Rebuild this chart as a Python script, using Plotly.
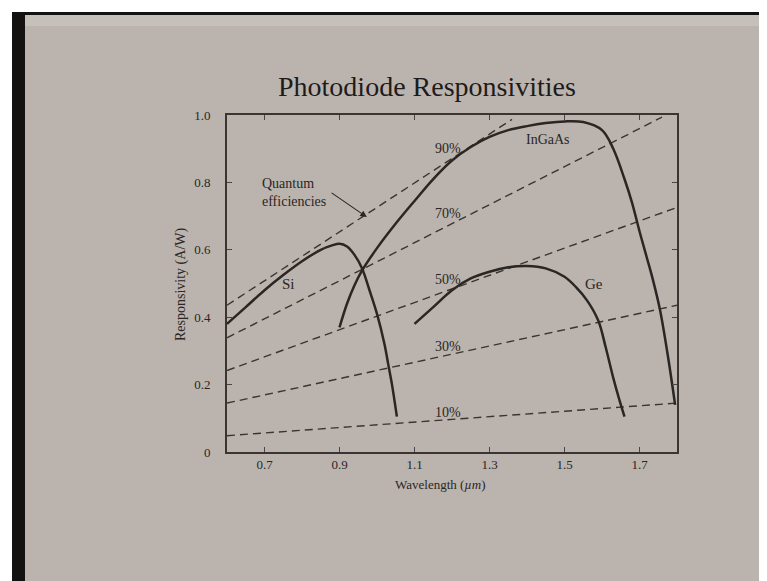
import plotly.graph_objects as go

# ---- data ----
si_wl = [0.6, 0.65, 0.7, 0.75, 0.8, 0.85, 0.88, 0.9, 0.92, 0.94, 0.96, 0.98, 1.0, 1.02, 1.03, 1.04, 1.053]
si_r = [0.38, 0.43, 0.48, 0.525, 0.566, 0.6, 0.613, 0.618, 0.61, 0.585, 0.545, 0.48, 0.41, 0.32, 0.26, 0.2, 0.105]

ingaas_wl = [0.9, 0.92, 0.94, 0.96, 1.0, 1.05, 1.1, 1.15, 1.2, 1.25, 1.3, 1.35, 1.4, 1.45, 1.5, 1.55,
             1.6, 1.63, 1.66, 1.68, 1.70, 1.72, 1.736, 1.755, 1.775, 1.795]
ingaas_r = [0.37, 0.44, 0.495, 0.538, 0.605, 0.678, 0.745, 0.81, 0.865, 0.905, 0.935, 0.955, 0.967, 0.976,
            0.981, 0.979, 0.955, 0.9, 0.81, 0.74, 0.655, 0.575, 0.51, 0.42, 0.29, 0.14]

ge_wl = [1.1, 1.15, 1.2, 1.25, 1.3, 1.35, 1.4, 1.45, 1.5, 1.53, 1.56, 1.59, 1.61, 1.63, 1.645, 1.66]
ge_r = [0.38, 0.43, 0.48, 0.515, 0.535, 0.548, 0.552, 0.545, 0.52, 0.49, 0.45, 0.39, 0.31, 0.22, 0.16, 0.105]

efficiencies = [0.9, 0.7, 0.5, 0.3, 0.1]
eff_labels = ["90%", "70%", "50%", "30%", "10%"]
eff_label_r = [0.902, 0.709, 0.513, 0.312, 0.116]
eff_wl_range = [0.6, 1.8]

x_ticks = [0.7, 0.9, 1.1, 1.3, 1.5, 1.7]
y_ticks = [0, 0.2, 0.4, 0.6, 0.8, 1.0]
y_tick_text = ["0", "0.2", "0.4", "0.6", "0.8", "1.0"]

# ---- layout geometry (reference pixel coords, page body adds an 8px offset) ----
OFF = 8
W, H = 767, 581
L, R, T, B = 227 - OFF, 90 + OFF, 115 - OFF, 129 + OFF
PW, PH = W - L - R, H - T - B


def px(x):
    return (x - OFF - L) / PW


def py(y):
    return (H - B - (y - OFF)) / PH


SERIF = "Liberation Serif"
INK = "#2a2624"
SLIDE = "#bbb4ae"

fig = go.Figure()

# quantum-efficiency dashed lines R = eta * lambda / 1.24
for eta in efficiencies:
    xs = []
    ys = []
    n = 60
    for i in range(n + 1):
        lam = eff_wl_range[0] + (eff_wl_range[1] - eff_wl_range[0]) * i / n
        r = eta * lam / 1.24
        if r <= 1.0:
            xs.append(lam)
            ys.append(r)
    fig.add_trace(go.Scatter(x=xs, y=ys, mode="lines",
                             line=dict(color="#3a3532", width=1.4, dash="8px,5px"),
                             hoverinfo="skip", showlegend=False))

for wl, r in [(si_wl, si_r), (ingaas_wl, ingaas_r), (ge_wl, ge_r)]:
    fig.add_trace(go.Scatter(x=wl, y=r, mode="lines", line=dict(color=INK, width=2.5, shape="spline"),
                             showlegend=False))

annotations = []
for lab, r in zip(eff_labels, eff_label_r):
    annotations.append(dict(x=1.149, y=r, xanchor="left", text=lab, showarrow=False,
                            font=dict(family=SERIF, size=14, color=INK)))
annotations += [
    dict(x=0.763, y=0.5, text="Si", showarrow=False, font=dict(family=SERIF, size=15, color=INK)),
    dict(x=1.455, y=0.926, text="InGaAs", showarrow=False, font=dict(family=SERIF, size=14, color=INK)),
    dict(x=1.578, y=0.5, text="Ge", showarrow=False, font=dict(family=SERIF, size=15, color=INK)),
    dict(x=0.688, y=0.771, xanchor="left", text="Quantum<br>efficiencies", showarrow=False, align="left",
         font=dict(family=SERIF, size=14, color=INK)),
    dict(x=0.973, y=0.697, ax=0.875, ay=0.772, axref="x", ayref="y", xref="x", yref="y",
         text="", showarrow=True, arrowhead=2, arrowsize=1.2, arrowwidth=1.1, arrowcolor=INK),
    dict(xref="paper", yref="paper", x=px(427), y=py(86), xanchor="center", yanchor="middle",
         text="Photodiode Responsivities",
         showarrow=False, font=dict(family=SERIF, size=28, color="#1e1b1a")),
    dict(xref="paper", yref="paper", x=px(440), y=py(484), xanchor="center", yanchor="middle",
         text="Wavelength (<i>µm</i>)",
         showarrow=False, font=dict(family=SERIF, size=13, color=INK)),
    dict(xref="paper", yref="paper", x=px(181), y=py(285), xanchor="center", yanchor="middle",
         text="Responsivity (A/W)", textangle=-90,
         showarrow=False, font=dict(family=SERIF, size=14, color=INK)),
]

shapes = [
    # white margin + dark camera border + slide
    dict(type="rect", xref="paper", yref="paper", x0=px(12), x1=px(W + 20), y0=py(12), y1=py(H + 20),
         fillcolor="#141210", line=dict(width=0), layer="below"),
    dict(type="rect", xref="paper", yref="paper", x0=px(25), x1=px(W + 20), y0=py(15), y1=py(H + 20),
         fillcolor="#c6c0ba", line=dict(width=0), layer="below"),
    dict(type="rect", xref="paper", yref="paper", x0=px(25), x1=px(W + 20), y0=py(26), y1=py(H + 20),
         fillcolor=SLIDE, line=dict(width=0), layer="below"),
]

axis_common = dict(ticks="inside", ticklen=5, tickwidth=1.2, tickcolor="#4a4542", mirror="ticks",
                   showline=True, linecolor="#3a3532", linewidth=1.6, showgrid=False, zeroline=False,
                   tickfont=dict(family=SERIF, size=13, color=INK))

fig.update_layout(
    width=W, height=H,
    margin=dict(l=L, r=R, t=T, b=B, pad=0),
    paper_bgcolor="white", plot_bgcolor="rgba(0,0,0,0)",
    xaxis=dict(range=[0.6, 1.8], tickvals=x_ticks, ticktext=[str(v) for v in x_ticks],
               ticklabelstandoff=0, **axis_common),
    yaxis=dict(range=[0, 1.0], tickvals=y_ticks, ticktext=y_tick_text, ticklabelstandoff=12,
               **axis_common),
    annotations=annotations, shapes=shapes,
)

fig.write_html("out.html")
